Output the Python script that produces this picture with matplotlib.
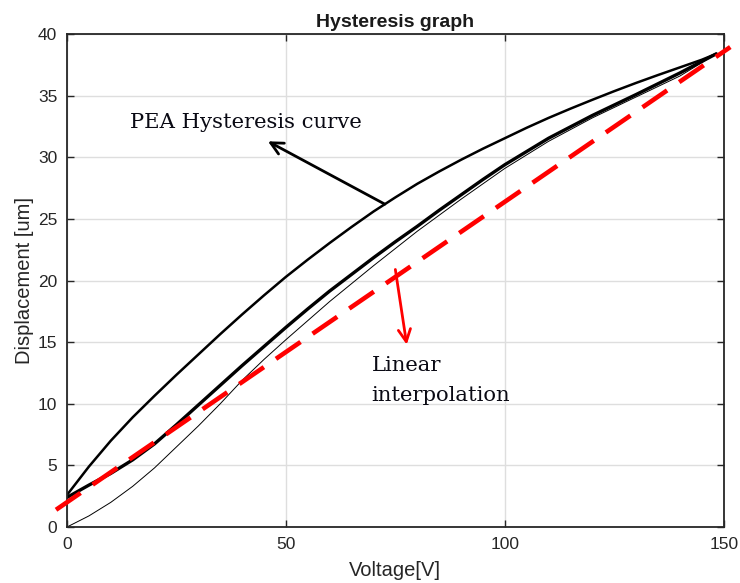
import numpy as np
import matplotlib.pyplot as plt

# Voltage sweep readings (V) and displacement (um) for each branch of the loop
v_upper = [0, 5, 10, 15, 20, 25, 30, 35, 40, 45, 50, 55, 60, 65, 70, 75, 80, 85,
           90, 95, 100, 105, 110, 115, 120, 125, 130, 135, 140, 145, 148.3]
d_upper = [2.6, 4.9, 7.0, 8.9, 10.65, 12.35, 14.0, 15.65, 17.25, 18.8, 20.3,
           21.7, 23.05, 24.35, 25.6, 26.75, 27.85, 28.85, 29.8, 30.7, 31.55,
           32.4, 33.2, 33.95, 34.67, 35.37, 36.04, 36.68, 37.3, 37.92, 38.4]

v_lower = [0, 5, 10, 15, 20, 25, 30, 35, 40, 45, 50, 55, 60, 65, 70, 75, 80, 85,
           90, 95, 100, 110, 120, 130, 140, 148.3]
d_lower = [2.4, 3.4, 4.35, 5.45, 6.75, 8.3, 9.9, 11.5, 13.1, 14.65, 16.2, 17.7,
           19.15, 20.5, 21.85, 23.15, 24.4, 25.7, 26.95, 28.2, 29.4, 31.55, 33.4,
           35.1, 36.85, 38.4]

v_initial = [0, 5, 10, 15, 20, 25, 30, 35, 40, 45, 50, 60, 70, 80, 90, 100, 110,
             120, 130, 140, 148.3]
d_initial = [0, 0.9, 2.0, 3.3, 4.8, 6.5, 8.2, 10.0, 11.9, 13.6, 15.2, 18.3, 21.2,
             24.0, 26.6, 29.1, 31.3, 33.2, 34.9, 36.6, 38.4]

# straight line between the two loop ends
v_lin = [-2.5, 151.5]
d_lin = [1.4, 38.95]

plt.rcParams['font.family'] = ['Liberation Sans', 'DejaVu Sans']
fig = plt.figure(figsize=(7.4, 5.83), dpi=100)
ax = fig.add_axes([0.0905, 0.096, 0.8875, 0.8455])

ax.plot(v_upper, d_upper, color='black', lw=1.8, solid_capstyle='round')
ax.plot(v_lower, d_lower, color='black', lw=2.4, solid_capstyle='round')
ax.plot(v_initial, d_initial, color='black', lw=0.7)
ax.plot(v_lin, d_lin, color='#ff0000', lw=3.3, dashes=(6.5, 3.2), clip_on=False,
        zorder=5)

ax.set_xlim(0, 150)
ax.set_ylim(0, 40)
ax.set_xticks([0, 50, 100, 150])
ax.set_yticks(np.arange(0, 41, 5))
ax.grid(True, color='#dedede', lw=1.0)
ax.set_axisbelow(True)
ax.tick_params(direction='in', length=5, width=1.0, top=True, right=True,
               labelsize=12.5, colors='#262626', pad=7)
for s in ax.spines.values():
    s.set_color('#262626')
    s.set_linewidth(1.3)

ax.set_title('Hysteresis graph', fontsize=14, fontweight='bold', color='#1a1a1a', pad=5)
ax.set_xlabel('Voltage[V]', fontsize=14.5, color='#262626', labelpad=7)
ax.set_ylabel('Displacement [um]', fontsize=14.5, color='#262626', labelpad=3)

# annotations
ax.annotate('', xy=(45.9, 31.3), xytext=(72.6, 26.2),
            arrowprops=dict(arrowstyle='->', color='black', lw=2.0,
                            mutation_scale=22, shrinkA=0, shrinkB=0))
ax.text(14.4, 32.8, 'PEA Hysteresis curve', fontsize=15.2, family='DejaVu Serif',
        ha='left', va='center', color='#0a0a14')

ax.annotate('', xy=(77.6, 14.8), xytext=(75.0, 20.9),
            arrowprops=dict(arrowstyle='->', color='#ff0000', lw=2.0,
                            mutation_scale=22, shrinkA=0, shrinkB=0))
ax.text(69.6, 13.1, 'Linear', fontsize=15.2, family='DejaVu Serif',
        ha='left', va='center', color='#0a0a14')
ax.text(69.6, 10.7, 'interpolation', fontsize=15.2, family='DejaVu Serif',
        ha='left', va='center', color='#0a0a14')

fig.savefig('out.png', dpi=100)
